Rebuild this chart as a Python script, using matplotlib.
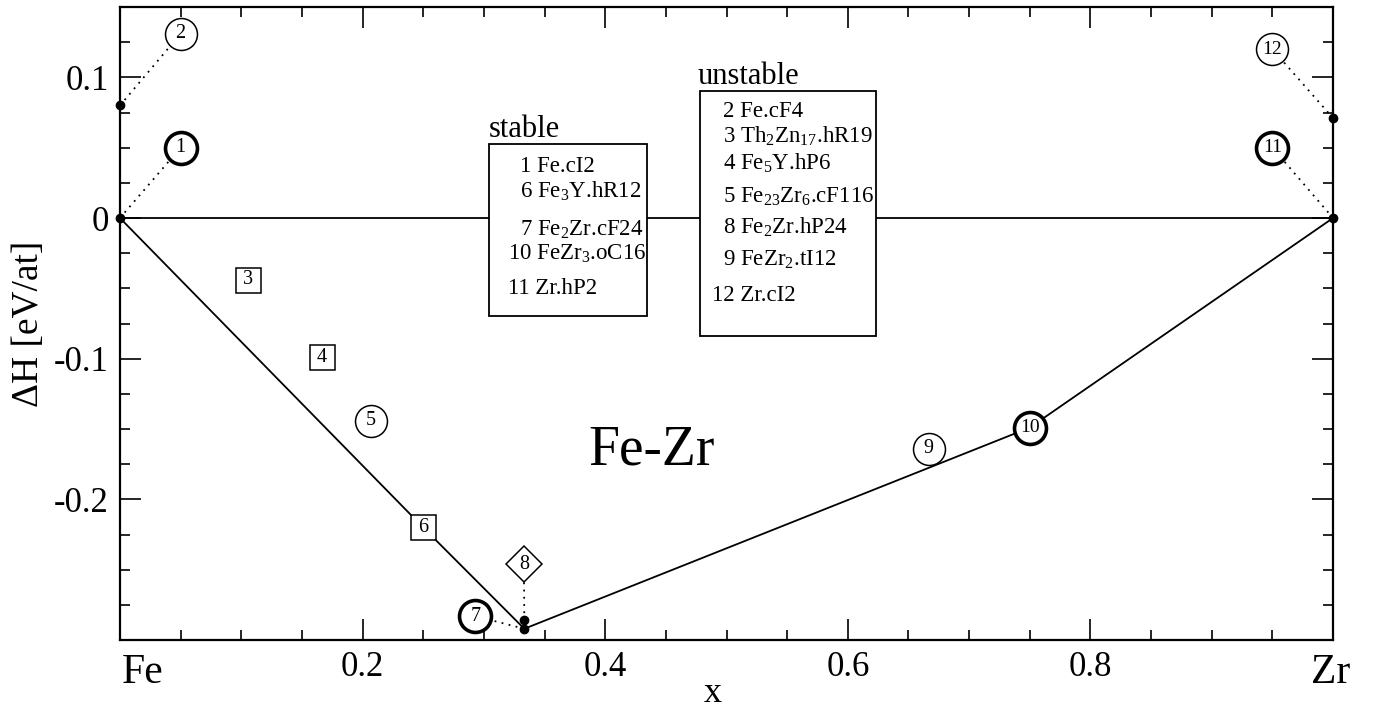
import matplotlib
matplotlib.use("Agg")
import matplotlib.pyplot as plt
import matplotlib.transforms as mtransforms
from matplotlib.patches import Rectangle
from matplotlib.ticker import MultipleLocator

plt.rcParams["font.family"] = ["Liberation Serif", "DejaVu Serif"]
plt.rcParams["mathtext.default"] = "regular"

# structures: id, x (Zr fraction), formation enthalpy (eV/at)
ids = [1, 2, 3, 4, 5, 6, 7, 8, 9, 10, 11, 12]
x_zr = [0.0, 0.0, 2 / 19, 1 / 6, 6 / 29, 0.25, 1 / 3, 1 / 3, 2 / 3, 0.75, 1.0, 1.0]
dH = [0.0, 0.080, -0.044, -0.099, -0.144, -0.220, -0.292, -0.286, -0.164, -0.149, 0.0, 0.071]
shape = ["o", "o", "s", "s", "o", "s", "o", "D", "o", "o", "o", "o"]
thick = [True, False, False, False, False, False, True, False, False, True, True, False]

# label positions for the points that sit on the border / overlap
label_pos = {
    1: (0.05, 0.050),
    2: (0.05, 0.131),
    7: (0.293, -0.283),
    8: (0.333, -0.246),
    11: (0.95, 0.050),
    12: (0.95, 0.120),
}

# convex hull (stable phases)
hull_x = [0.0, 0.25, 1 / 3, 0.75, 1.0]
hull_y = [0.0, -0.220, -0.292, -0.149, 0.0]

stable_list = ["1 Fe.cI2", "6 Fe$_3$Y.hR12", "7 Fe$_2$Zr.cF24", "10 FeZr$_3$.oC16", "11 Zr.hP2"]
unstable_list = ["2 Fe.cF4", "3 Th$_2$Zn$_{17}$.hR19", "4 Fe$_5$Y.hP6", "5 Fe$_{23}$Zr$_6$.cF116",
                 "8 Fe$_2$Zr.hP24", "9 FeZr$_2$.tI12", "12 Zr.cI2"]

fig = plt.figure(figsize=(13.74, 7.09), dpi=100)
ax = fig.add_axes([0.0873, 0.0973, 0.8829, 0.8928])

ax.plot([0, 1], [0, 0], color="black", lw=1.3, zorder=1)
ax.plot(hull_x, hull_y, color="black", lw=1.3, zorder=2)

for i, xv, yv, m, th in zip(ids, x_zr, dH, shape, thick):
    if i in label_pos:
        lx, ly = label_pos[i]
        ax.plot([xv, lx], [yv, ly], color="black", ls=(0, (1, 3)), lw=1.3, zorder=2)
        ax.plot(xv, yv, "o", color="black", ms=6, zorder=6, clip_on=False)
    else:
        lx, ly = xv, yv
    ms = 23 if m == "o" else 18
    ax.plot(lx, ly, m, ms=ms, mfc="white", mec="black", mew=2.6 if th else 1.1, zorder=4)
    ax.text(lx, ly, str(i), ha="center", va="center", fontsize=14.5 if i < 10 else 14, zorder=5)

# legend boxes
ax.add_patch(Rectangle((0.304, -0.0697), 0.1305, 0.1225, facecolor="white",
                       edgecolor="black", lw=1.3, zorder=3))
ax.add_patch(Rectangle((0.478, -0.084), 0.145, 0.174, facecolor="white",
                       edgecolor="black", lw=1.3, zorder=3))
ax.text(0.304, 0.0578, "stable", fontsize=22, va="baseline", zorder=5)
ax.text(0.4765, 0.095, "unstable", fontsize=22, va="baseline", zorder=5)

stable_y = [0.0327, 0.0141, -0.0124, -0.0296, -0.054]
for s, yy in zip(stable_list, stable_y):
    xx = 0.32 if s.startswith("1") and s[1] != " " else 0.33
    ax.text(xx, yy, s, fontsize=16.5, va="baseline", zorder=5)

unstable_y = [0.072, 0.0535, 0.0341, 0.0112, -0.011, -0.034, -0.059]
for s, yy in zip(unstable_list, unstable_y):
    xx = 0.488 if s.startswith("12") else 0.497
    ax.text(xx, yy, s, fontsize=16.5, va="baseline", zorder=5)

ax.text(0.4386, -0.175, "Fe-Zr", fontsize=40, ha="center", va="baseline")

ax.set_xlim(0, 1)
ax.set_ylim(-0.3, 0.15)
ax.xaxis.set_minor_locator(MultipleLocator(0.05))
ax.set_yticks([-0.2, -0.1, 0, 0.1])
ax.set_yticklabels(["-0.2", "-0.1", "0", "0.1"])
ax.yaxis.set_minor_locator(MultipleLocator(0.025))
ax.set_xticks([0.2, 0.4, 0.6, 0.8])
ax.set_xticklabels(["0.2", "0.4", "0.6", "0.8"])
ax.tick_params(which="both", direction="in", top=True, right=True, labelsize=25, width=1.2)
ax.tick_params(which="major", length=15, pad=8)
ax.tick_params(which="minor", length=7.5)
for sp in ax.spines.values():
    sp.set_linewidth(1.6)

trans = mtransforms.blended_transform_factory(ax.transData, ax.transAxes)
ax.text(0.0015, -0.068, "Fe", fontsize=30, ha="left", va="baseline", transform=trans)
ax.text(0.998, -0.068, "Zr", fontsize=30, ha="center", va="baseline", transform=trans)

ax.set_ylabel("ΔH [eV/at]", fontsize=27, labelpad=6)
fig.text(713 / 1374, 1 - 693 / 709, "x", fontsize=26, ha="center", va="center")

fig.savefig("out.png", dpi=100)
